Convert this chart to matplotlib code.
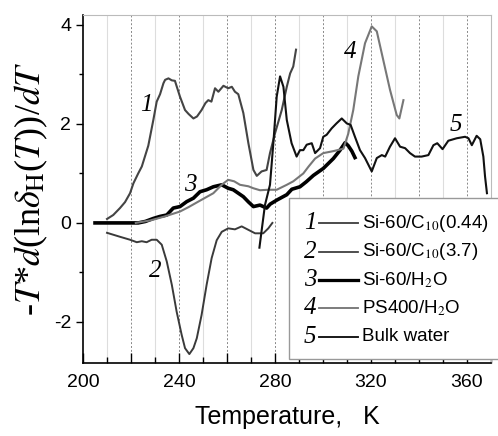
import numpy as np
import matplotlib
matplotlib.use("Agg")
import matplotlib.pyplot as plt
from matplotlib.ticker import MultipleLocator, FuncFormatter
from matplotlib.patches import Rectangle
from matplotlib.lines import Line2D

plt.rcParams['font.family'] = ['Liberation Sans', 'DejaVu Sans']
plt.rcParams['mathtext.fontset'] = 'stix'

# Curve 1: Si-60/C10(0.44)
T1 = [210, 212.6, 215.4, 217.5, 219.6, 221, 223, 224.5, 227.2, 229.3, 230.7, 232.1, 233.5,
      234.2, 235.6, 237, 238.3, 240.4, 242.5, 244, 246, 247.5, 249.4, 251, 252.2, 253.5, 255,
      256.4, 258.5, 260.5, 262, 263.3, 264.7, 266.8, 268.9, 271, 272.4, 274.4, 276.5, 277.9,
      280, 282.8, 284.9, 286.3, 287.6, 288.75]
Y1 = [0.08, 0.16, 0.3, 0.42, 0.6, 0.8, 1.0, 1.14, 1.56, 2.08, 2.45, 2.6, 2.82,
      2.89, 2.92, 2.88, 2.87, 2.55, 2.28, 2.2, 2.11, 2.15, 2.28, 2.42, 2.48, 2.45, 2.72,
      2.65, 2.77, 2.72, 2.75, 2.65, 2.6, 2.22, 1.61, 1.07, 0.95, 1.04, 1.07, 1.41,
      1.81, 2.28, 2.75, 3.02, 3.16, 3.5]

# Curve 2: Si-60/C10(3.7)
T2 = [210, 215.4, 219.6, 222.4, 224.5, 226.5, 228.6, 230.7, 232.8, 234.9, 237, 239, 241.1,
      242.5, 244.3, 246, 247.4, 249.4, 251.5, 253.6, 255.7, 257.8, 260.5, 263.3, 266.1,
      268.9, 271.7, 275.1, 277.2, 278.9]
Y2 = [-0.2, -0.28, -0.34, -0.39, -0.37, -0.39, -0.34, -0.34, -0.44, -0.78, -1.25, -1.79, -2.26,
      -2.53, -2.65, -2.53, -2.33, -1.86, -1.25, -0.71, -0.35, -0.18, -0.11, -0.13, -0.07,
      -0.14, -0.21, -0.21, -0.11, 0.0]

# Curve 3: Si-60/H2O
T3 = [205, 215, 223, 226, 229.3, 232, 234.9, 237.6, 240.4, 243.2, 246, 248.75, 251.5, 254.3,
      257.8, 260.5, 262.6, 266.8, 269, 271, 273.75, 276.5, 278, 280.7, 284.9, 287, 290.4,
      293, 296, 300.1, 304.3, 307.1, 309.2, 310.5, 312, 313.3]
Y3 = [0, 0, 0, 0.03, 0.09, 0.13, 0.16, 0.3, 0.33, 0.43, 0.5, 0.63, 0.67, 0.73,
      0.77, 0.7, 0.67, 0.53, 0.42, 0.33, 0.36, 0.3, 0.38, 0.46, 0.57, 0.68, 0.73,
      0.83, 0.96, 1.1, 1.3, 1.47, 1.62, 1.56, 1.45, 1.32]

# Curve 4: PS400/H2O
T4 = [222, 228, 234, 240.4, 244, 248.75, 254.3, 258, 260.5, 263, 265.4, 268.9, 271, 273.75,
      277.2, 280.7, 284.9, 287.6, 291.8, 294, 296.7, 300.1, 304.3, 308.5, 310.5, 312.6,
      314.7, 317.5, 320.3, 322.4, 325.1, 327.9, 330.7, 331.8, 333.5]
Y4 = [0, 0.05, 0.13, 0.23, 0.32, 0.45, 0.6, 0.78, 0.87, 0.84, 0.77, 0.74, 0.7, 0.66,
      0.67, 0.67, 0.77, 0.84, 1.0, 1.14, 1.3, 1.41, 1.45, 1.5, 1.8, 2.28,
      2.96, 3.63, 3.97, 3.87, 3.29, 2.69, 2.18, 2.11, 2.48]

# Curve 5: Bulk water
T5 = [273.5, 275.8, 277.9, 279.3, 280.7, 282.1, 283.5, 284.9, 286.9, 289, 290.4, 291.8, 293.2,
      295.3, 296.7, 298.75, 300.1, 301.5, 303.6, 305.6, 307.8, 309.9, 311.5, 313.3, 315.4,
      317.5, 320.3, 322.4, 324.5, 325.9, 327.9, 330, 332.1, 334.2, 336.25, 338.3, 341.1,
      343.9, 346, 347.6, 349.8, 352.2, 355.7, 359.2, 360.6, 362, 364, 365.5, 366.8, 367.5, 368.3]
Y5 = [-0.5, 0.36, 0.77, 1.61, 2.55, 2.96, 2.75, 2.08, 1.61, 1.34, 1.47, 1.47, 1.58,
      1.61, 1.41, 1.51, 1.74, 1.78, 1.91, 2.01, 2.11, 2.01, 1.98, 1.74, 1.47,
      1.31, 1.04, 1.31, 1.37, 1.34, 1.54, 1.71, 1.54, 1.51, 1.41, 1.34, 1.34,
      1.37, 1.57, 1.61, 1.49, 1.66, 1.71, 1.74, 1.71, 1.57, 1.76, 1.69, 1.34, 0.94, 0.6]

numbers = ['1', '2', '3', '4', '5']
labels = [r'Si-60/C$_{10}$(0.44)', r'Si-60/C$_{10}$(3.7)', r'Si-60/H$_2$O',
          r'PS400/H$_2$O', 'Bulk water']
colors = ['#444444', '#3a3a3a', '#000000', '#777777', '#111111']
widths = [1.5, 1.4, 2.6, 1.5, 1.5]
# label positions for curve numbers
num_x = [226.5, 230, 244.9, 311.3, 355.4]
num_y = [2.38, -0.97, 0.77, 3.46, 1.98]

fig = plt.figure(figsize=(4.98, 4.36), dpi=100)
ax = fig.add_axes([0.1667, 0.1674, 0.8193, 0.7982])

# vertical grid lines
for t in range(210, 360, 20):
    ax.axvline(t, color='#dddddd', lw=0.8, zorder=0)
for t in range(220, 370, 20):
    ax.axvline(t, color='#888888', lw=0.7, ls=(0, (2, 2)), zorder=0)

data = [(T1, Y1), (T2, Y2), (T3, Y3), (T4, Y4), (T5, Y5)]
for (t, y), c, w in zip(data, colors, widths):
    ax.plot(t, y, color=c, lw=w, zorder=3)

for n, x, y in zip(numbers, num_x, num_y):
    ax.text(x, y, n, family='Liberation Serif', style='italic', fontsize=18,
            ha='center', va='center', zorder=4)

ax.set_xlim(200, 370)
ax.set_ylim(-2.83, 4.2)
ax.xaxis.set_major_locator(MultipleLocator(20))
ax.xaxis.set_minor_locator(MultipleLocator(10))
ax.xaxis.set_major_formatter(FuncFormatter(lambda v, p: f'{v:.0f}' if v % 40 == 0 else ''))
ax.yaxis.set_major_locator(MultipleLocator(2))
ax.yaxis.set_minor_locator(MultipleLocator(1))
ax.yaxis.set_major_formatter(FuncFormatter(lambda v, p: f'{v:.0f}'))
ax.tick_params(axis='x', which='major', direction='in', length=7, width=1, labelsize=14, pad=8)
ax.tick_params(axis='x', which='minor', direction='in', length=4, width=1)
ax.tick_params(axis='y', which='major', direction='out', length=5, width=1, labelsize=14)
ax.tick_params(axis='y', which='minor', direction='out', length=3, width=1)
for s in ['top', 'right']:
    ax.spines[s].set_color('#bbbbbb')
for s in ['left', 'bottom']:
    ax.spines[s].set_linewidth(1.2)

ax.set_xlabel('Temperature,   K', fontsize=18, labelpad=10)
ax.set_ylabel(r'-$T$*$d$(ln$\delta_{\rm H}$($T$))/$dT$', fontsize=26,
              family='Liberation Serif', labelpad=3)

# legend box drawn by hand
box = Rectangle((0.505, 0.012), 0.52, 0.462, transform=ax.transAxes, facecolor='white',
                edgecolor='#999999', lw=1, clip_on=False, zorder=5)
ax.add_patch(box)
row_y = [0.402, 0.319, 0.239, 0.158, 0.075]
for n, lab, c, w, ry in zip(numbers, labels, colors, widths, row_y):
    ax.text(0.556, ry, n, transform=ax.transAxes, family='Liberation Serif', style='italic',
            fontsize=18, ha='center', va='center', zorder=6)
    ax.add_line(Line2D([0.578, 0.674], [ry, ry], transform=ax.transAxes, color=c,
                       lw=w * 0.9, zorder=6, clip_on=False))
    ax.text(0.684, ry, lab, transform=ax.transAxes, fontsize=13.5, ha='left', va='center',
            zorder=6, clip_on=False)

fig.savefig('out.png', dpi=100)
